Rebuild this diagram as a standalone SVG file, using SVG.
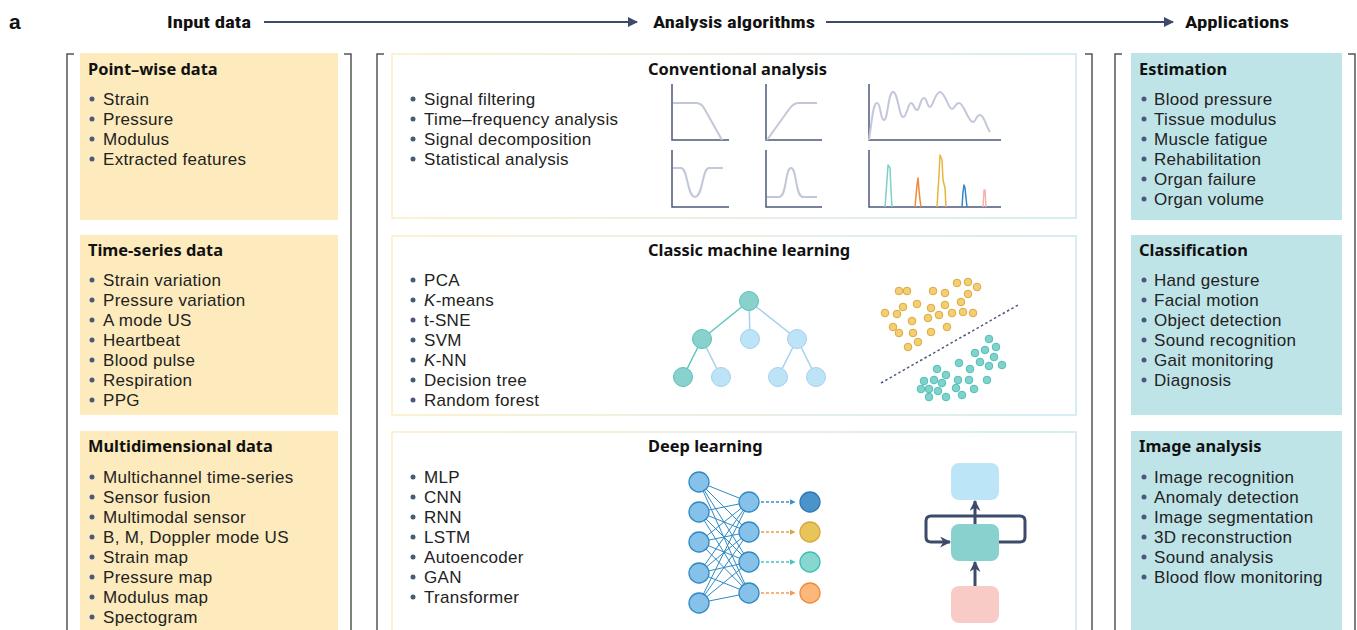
<svg xmlns="http://www.w3.org/2000/svg" width="1357" height="630" viewBox="0 0 1357 630">
  <defs>
    <style>
      .hdr { font-family: "Liberation Sans Narrow", "Roboto Condensed", Roboto, sans-serif; font-weight: bold; font-size: 16px; fill: #111; }
      .lbl { font-family: "Liberation Sans", Roboto, sans-serif; font-weight: bold; font-size: 21px; fill: #111; }
      .ttl { font-family: "Noto Sans", "Liberation Sans", sans-serif; font-weight: bold; font-size: 16.4px; fill: #111; }
      .itm { font-family: "Liberation Sans", Arial, sans-serif; font-size: 17px; letter-spacing: 0.3px; fill: #222; }
      .dot { fill: #4a5a7a; }
      .brk { fill: none; stroke: #555; stroke-width: 1.5; }
      .yel { fill: #fdebbd; }
      .cyn { fill: #bfe4e8; }
      .mid { fill: #fff; stroke: url(#edge); stroke-width: 1.5; }
      .axis { fill: none; stroke: #4a5a7a; stroke-width: 1.5; }
      .crv { fill: none; stroke: #c2c7da; stroke-width: 2; stroke-linejoin: round; }
      .tn { fill: #88d1cc; stroke: #5cc0b8; stroke-width: 1; }
      .bn { fill: #bde3f7; stroke: #a3d1ee; stroke-width: 1; }
      .te { stroke: #5cc7bf; stroke-width: 1.5; }
      .be { stroke: #a3d1ee; stroke-width: 1.5; }
      .yd { fill: #f3cf72; stroke: #d9a940; stroke-width: 1; }
      .cd { fill: #7fd3cc; stroke: #4fbfb5; stroke-width: 1; }
      .nn { fill: #85c1e9; stroke: #2f8ac4; stroke-width: 1.3; }
      .nw { stroke: #2f8ac4; stroke-width: 1; }
      .flow { fill: none; stroke: #3d4b6a; stroke-width: 3; stroke-linejoin: round; }
    </style>
    <linearGradient id="edge" x1="0" y1="0" x2="1" y2="0">
      <stop offset="0" stop-color="#fcedc4"/>
      <stop offset="1" stop-color="#c8e8ee"/>
    </linearGradient>
    <marker id="ah" viewBox="0 0 10 10" refX="9" refY="5" markerWidth="10" markerHeight="10" markerUnits="userSpaceOnUse" orient="auto">
      <path d="M0,0 L10,5 L0,10 Z" fill="#3d4b6a"/>
    </marker>
    <marker id="ahb" viewBox="0 0 10 10" refX="9" refY="5" markerWidth="11" markerHeight="11" markerUnits="userSpaceOnUse" orient="auto">
      <path d="M0,0 L10,5 L0,10 L3,5 Z" fill="#3d4b6a"/>
    </marker>
    <marker id="m1" viewBox="0 0 10 10" refX="9" refY="5" markerWidth="6" markerHeight="6" markerUnits="userSpaceOnUse" orient="auto"><path d="M0,0 L10,5 L0,10 Z" fill="#3b8fc8"/></marker>
    <marker id="m2" viewBox="0 0 10 10" refX="9" refY="5" markerWidth="6" markerHeight="6" markerUnits="userSpaceOnUse" orient="auto"><path d="M0,0 L10,5 L0,10 Z" fill="#d8a84a"/></marker>
    <marker id="m3" viewBox="0 0 10 10" refX="9" refY="5" markerWidth="6" markerHeight="6" markerUnits="userSpaceOnUse" orient="auto"><path d="M0,0 L10,5 L0,10 Z" fill="#4cc4bc"/></marker>
    <marker id="m4" viewBox="0 0 10 10" refX="9" refY="5" markerWidth="6" markerHeight="6" markerUnits="userSpaceOnUse" orient="auto"><path d="M0,0 L10,5 L0,10 Z" fill="#f39a55"/></marker>
  </defs>

  <rect width="1357" height="630" fill="#fff"/>

  <!-- panel letter and column headers -->
  <g id="headers">
    <text x="9" y="29" class="lbl">a</text>
    <text x="167" y="28" class="hdr" textLength="84" lengthAdjust="spacingAndGlyphs">Input data</text>
    <text x="653" y="28" class="hdr" textLength="162" lengthAdjust="spacingAndGlyphs">Analysis algorithms</text>
    <text x="1185" y="28" class="hdr" textLength="104" lengthAdjust="spacingAndGlyphs">Applications</text>
  </g>

  <!-- flow arrows between the three columns -->
  <g id="connectors">
    <line x1="264" y1="22" x2="637" y2="22" stroke="#3d4b6a" stroke-width="2" marker-end="url(#ah)"/>
    <line x1="826" y1="22" x2="1173" y2="22" stroke="#3d4b6a" stroke-width="2" marker-end="url(#ah)"/>
  </g>

  <!-- column brackets -->
  <g id="brackets">
    <path class="brk" d="M74,54 H67 V630"/>
    <path class="brk" d="M344,54 H351 V630"/>
    <path class="brk" d="M384,54 H377 V630"/>
    <path class="brk" d="M1085,54 H1092 V630"/>
    <path class="brk" d="M1122,54 H1115 V630"/>
    <path class="brk" d="M1348,54 H1355 V630"/>
  </g>

  <!-- ===== Input data column ===== -->
  <g id="pointwise">
    <rect class="yel" x="80" y="53" width="258" height="167"/>
    <text class="ttl" x="88" y="75">Point–wise data</text>
    <g class="dot"><circle cx="92" cy="99" r="2.5"/><circle cx="92" cy="119" r="2.5"/><circle cx="92" cy="139" r="2.5"/><circle cx="92" cy="159" r="2.5"/></g>
    <text class="itm" x="103" y="105">Strain</text>
    <text class="itm" x="103" y="125">Pressure</text>
    <text class="itm" x="103" y="145">Modulus</text>
    <text class="itm" x="103" y="165">Extracted features</text>
  </g>

  <g id="timeseries">
    <rect class="yel" x="80" y="235" width="258" height="180"/>
    <text class="ttl" x="88" y="256">Time-series data</text>
    <g class="dot"><circle cx="92" cy="280" r="2.5"/><circle cx="92" cy="300" r="2.5"/><circle cx="92" cy="320" r="2.5"/><circle cx="92" cy="340" r="2.5"/><circle cx="92" cy="360" r="2.5"/><circle cx="92" cy="380" r="2.5"/><circle cx="92" cy="400" r="2.5"/></g>
    <text class="itm" x="103" y="286">Strain variation</text>
    <text class="itm" x="103" y="306">Pressure variation</text>
    <text class="itm" x="103" y="326">A mode US</text>
    <text class="itm" x="103" y="346">Heartbeat</text>
    <text class="itm" x="103" y="366">Blood pulse</text>
    <text class="itm" x="103" y="386">Respiration</text>
    <text class="itm" x="103" y="406">PPG</text>
  </g>

  <g id="multidimensional">
    <rect class="yel" x="80" y="431" width="258" height="200"/>
    <text class="ttl" x="88" y="452">Multidimensional data</text>
    <g class="dot"><circle cx="92" cy="477" r="2.5"/><circle cx="92" cy="497" r="2.5"/><circle cx="92" cy="517" r="2.5"/><circle cx="92" cy="537" r="2.5"/><circle cx="92" cy="557" r="2.5"/><circle cx="92" cy="577" r="2.5"/><circle cx="92" cy="597" r="2.5"/><circle cx="92" cy="617" r="2.5"/></g>
    <text class="itm" x="103" y="483">Multichannel time-series</text>
    <text class="itm" x="103" y="503">Sensor fusion</text>
    <text class="itm" x="103" y="523">Multimodal sensor</text>
    <text class="itm" x="103" y="543">B, M, Doppler mode US</text>
    <text class="itm" x="103" y="563">Strain map</text>
    <text class="itm" x="103" y="583">Pressure map</text>
    <text class="itm" x="103" y="603">Modulus map</text>
    <text class="itm" x="103" y="623">Spectogram</text>
  </g>

  <!-- ===== Analysis algorithms column ===== -->
  <g id="conventional">
    <rect class="mid" x="392" y="54" width="684" height="164"/>
    <text class="ttl" x="648" y="75">Conventional analysis</text>
    <g class="dot"><circle cx="413" cy="99" r="2.5"/><circle cx="413" cy="119" r="2.5"/><circle cx="413" cy="139" r="2.5"/><circle cx="413" cy="159" r="2.5"/></g>
    <text class="itm" x="424" y="105">Signal filtering</text>
    <text class="itm" x="424" y="125">Time–frequency analysis</text>
    <text class="itm" x="424" y="145">Signal decomposition</text>
    <text class="itm" x="424" y="165">Statistical analysis</text>
    <!-- filter responses -->
    <path class="axis" d="M672,84 V140 H729"/>
    <path class="crv" d="M673,103 H696 Q701,103 704,108 L722,140"/>
    <path class="axis" d="M766,84 V140 H822"/>
    <path class="crv" d="M767,140 L790,108 Q794,103 799,103 H817"/>
    <path class="axis" d="M869,84 V140 H1001"/>
    <path class="crv" d="M869,140 C872,120 873,103 877,103 C881,103 880,120 884,120 C888,120 888,92 893,92 C898,92 899,117 903,117 C907,117 908,103 911,103 C914,103 914,110 917,110 C920,110 920,98 924,98 C927,98 927,107 930,107 C933,107 935,92 940,92 C945,92 948,109 952,109 C955,109 955,103 959,103 C964,103 968,122 973,122 C976,122 976,115 980,115 C984,115 986,126 990,132"/>
    <path class="axis" d="M672,150 V207 H729"/>
    <path class="crv" d="M673,168 H681 C688,168 687,197 695,197 C703,197 702,168 709,168 H723"/>
    <path class="axis" d="M766,150 V207 H822"/>
    <path class="crv" d="M767,197 H779 C787,197 785,168 791,168 C797,168 795,197 803,197 H817"/>
    <path class="axis" d="M869,150 V207 H1001"/>
    <g fill="none" stroke-width="1.5" stroke-linejoin="round">
      <path stroke="#7ed0c9" d="M885,207 L887,180 L888,165 L890,168 L891,190 L892,207"/>
      <path stroke="#f08a3a" d="M915,207 L917,185 L918,178 L919,190 L920,200 L921,207"/>
      <path stroke="#e7b53e" d="M937,207 L939,175 L940,155 L942,160 L943,180 L945,188 L946,207"/>
      <path stroke="#3a86c4" d="M962,207 L963,192 L964,185 L965,188 L966,198 L967,207"/>
      <path stroke="#f4b3ae" d="M983,207 L984,190 L985,190 L986,207"/>
    </g>
  </g>

  <g id="classic-ml">
    <rect class="mid" x="392" y="236" width="684" height="179"/>
    <text class="ttl" x="648" y="256">Classic machine learning</text>
    <g class="dot"><circle cx="413" cy="280" r="2.5"/><circle cx="413" cy="300" r="2.5"/><circle cx="413" cy="320" r="2.5"/><circle cx="413" cy="340" r="2.5"/><circle cx="413" cy="360" r="2.5"/><circle cx="413" cy="380" r="2.5"/><circle cx="413" cy="400" r="2.5"/></g>
    <text class="itm" x="424" y="286">PCA</text>
    <text class="itm" x="424" y="306"><tspan font-style="italic">K</tspan>-means</text>
    <text class="itm" x="424" y="326">t-SNE</text>
    <text class="itm" x="424" y="346">SVM</text>
    <text class="itm" x="424" y="366"><tspan font-style="italic">K</tspan>-NN</text>
    <text class="itm" x="424" y="386">Decision tree</text>
    <text class="itm" x="424" y="406">Random forest</text>
    <!-- decision tree -->
    <line class="te" x1="749" y1="301" x2="702" y2="339"/>
    <line class="be" x1="749" y1="301" x2="750" y2="339"/>
    <line class="be" x1="749" y1="301" x2="797" y2="339"/>
    <line class="te" x1="702" y1="339" x2="683" y2="377"/>
    <line class="be" x1="702" y1="339" x2="721" y2="377"/>
    <line class="be" x1="797" y1="339" x2="778" y2="377"/>
    <line class="be" x1="797" y1="339" x2="816" y2="377"/>
    <circle class="tn" cx="749" cy="301" r="9.5"/>
    <circle class="tn" cx="702" cy="339" r="9.5"/>
    <circle class="bn" cx="750" cy="339" r="9.5"/>
    <circle class="bn" cx="797" cy="339" r="9.5"/>
    <circle class="tn" cx="683" cy="377" r="9.5"/>
    <circle class="bn" cx="721" cy="377" r="9.5"/>
    <circle class="bn" cx="778" cy="377" r="9.5"/>
    <circle class="bn" cx="816" cy="377" r="9.5"/>
    <!-- clustered scatter with separating boundary -->
    <line x1="881" y1="383" x2="1018" y2="305" stroke="#4a5a7a" stroke-width="1.5" stroke-dasharray="2.5 2.5"/>
    <g class="yd">
      <circle cx="899" cy="291" r="3.8"/><circle cx="907" cy="291" r="3.8"/><circle cx="933" cy="291" r="3.8"/><circle cx="945" cy="293" r="3.8"/>
      <circle cx="957" cy="283" r="3.8"/><circle cx="968" cy="282" r="3.8"/><circle cx="977" cy="287" r="3.8"/><circle cx="968" cy="294" r="3.8"/>
      <circle cx="961" cy="302" r="3.8"/><circle cx="903" cy="307" r="3.8"/><circle cx="917" cy="304" r="3.8"/><circle cx="931" cy="308" r="3.8"/>
      <circle cx="945" cy="305" r="3.8"/><circle cx="885" cy="313" r="3.8"/><circle cx="897" cy="314" r="3.8"/><circle cx="928" cy="318" r="3.8"/>
      <circle cx="939" cy="315" r="3.8"/><circle cx="952" cy="313" r="3.8"/><circle cx="963" cy="312" r="3.8"/><circle cx="973" cy="313" r="3.8"/>
      <circle cx="912" cy="321" r="3.8"/><circle cx="893" cy="327" r="3.8"/><circle cx="899" cy="333" r="3.8"/><circle cx="913" cy="333" r="3.8"/>
      <circle cx="931" cy="332" r="3.8"/><circle cx="947" cy="327" r="3.8"/><circle cx="918" cy="342" r="3.8"/><circle cx="908" cy="347" r="3.8"/>
    </g>
    <g class="cd">
      <circle cx="989" cy="339" r="3.8"/><circle cx="996" cy="347" r="3.8"/><circle cx="985" cy="350" r="3.8"/><circle cx="975" cy="353" r="3.8"/>
      <circle cx="994" cy="357" r="3.8"/><circle cx="959" cy="363" r="3.8"/><circle cx="980" cy="362" r="3.8"/><circle cx="989" cy="366" r="3.8"/>
      <circle cx="1002" cy="365" r="3.8"/><circle cx="970" cy="369" r="3.8"/><circle cx="937" cy="369" r="3.8"/><circle cx="946" cy="375" r="3.8"/>
      <circle cx="924" cy="381" r="3.8"/><circle cx="934" cy="380" r="3.8"/><circle cx="942" cy="383" r="3.8"/><circle cx="958" cy="380" r="3.8"/>
      <circle cx="969" cy="380" r="3.8"/><circle cx="987" cy="380" r="3.8"/><circle cx="921" cy="389" r="3.8"/><circle cx="929" cy="389" r="3.8"/>
      <circle cx="938" cy="391" r="3.8"/><circle cx="956" cy="388" r="3.8"/><circle cx="974" cy="389" r="3.8"/><circle cx="929" cy="397" r="3.8"/>
      <circle cx="946" cy="397" r="3.8"/><circle cx="962" cy="395" r="3.8"/>
    </g>
  </g>

  <g id="deep-learning">
    <rect class="mid" x="392" y="432" width="684" height="200"/>
    <text class="ttl" x="648" y="452">Deep learning</text>
    <g class="dot"><circle cx="413" cy="477" r="2.5"/><circle cx="413" cy="497" r="2.5"/><circle cx="413" cy="517" r="2.5"/><circle cx="413" cy="537" r="2.5"/><circle cx="413" cy="557" r="2.5"/><circle cx="413" cy="577" r="2.5"/><circle cx="413" cy="597" r="2.5"/></g>
    <text class="itm" x="424" y="483">MLP</text>
    <text class="itm" x="424" y="503">CNN</text>
    <text class="itm" x="424" y="523">RNN</text>
    <text class="itm" x="424" y="543">LSTM</text>
    <text class="itm" x="424" y="563">Autoencoder</text>
    <text class="itm" x="424" y="583">GAN</text>
    <text class="itm" x="424" y="603">Transformer</text>
    <!-- fully connected layers -->
    <g class="nw">
      <line x1="699" y1="482" x2="749" y2="502"/><line x1="699" y1="482" x2="749" y2="532"/><line x1="699" y1="482" x2="749" y2="562"/><line x1="699" y1="482" x2="749" y2="593"/>
      <line x1="699" y1="512" x2="749" y2="502"/><line x1="699" y1="512" x2="749" y2="532"/><line x1="699" y1="512" x2="749" y2="562"/><line x1="699" y1="512" x2="749" y2="593"/>
      <line x1="699" y1="542" x2="749" y2="502"/><line x1="699" y1="542" x2="749" y2="532"/><line x1="699" y1="542" x2="749" y2="562"/><line x1="699" y1="542" x2="749" y2="593"/>
      <line x1="699" y1="573" x2="749" y2="502"/><line x1="699" y1="573" x2="749" y2="532"/><line x1="699" y1="573" x2="749" y2="562"/><line x1="699" y1="573" x2="749" y2="593"/>
      <line x1="699" y1="603" x2="749" y2="502"/><line x1="699" y1="603" x2="749" y2="532"/><line x1="699" y1="603" x2="749" y2="562"/><line x1="699" y1="603" x2="749" y2="593"/>
    </g>
    <g class="nn">
      <circle cx="699" cy="482" r="10"/><circle cx="699" cy="512" r="10"/><circle cx="699" cy="542" r="10"/><circle cx="699" cy="573" r="10"/><circle cx="699" cy="603" r="10"/>
      <circle cx="749" cy="502" r="10"/><circle cx="749" cy="532" r="10"/><circle cx="749" cy="562" r="10"/><circle cx="749" cy="593" r="10"/>
    </g>
    <g stroke-width="1.5" stroke-dasharray="3 2">
      <line x1="761" y1="502" x2="795" y2="502" stroke="#3b8fc8" marker-end="url(#m1)"/>
      <line x1="761" y1="532" x2="795" y2="532" stroke="#d8a84a" marker-end="url(#m2)"/>
      <line x1="761" y1="562" x2="795" y2="562" stroke="#4cc4bc" marker-end="url(#m3)"/>
      <line x1="761" y1="593" x2="795" y2="593" stroke="#f39a55" marker-end="url(#m4)"/>
    </g>
    <circle cx="810" cy="502" r="10" fill="#4a93cb" stroke="#2f78b3" stroke-width="1.3"/>
    <circle cx="810" cy="532" r="10" fill="#e8c55a" stroke="#d6a83a" stroke-width="1.3"/>
    <circle cx="810" cy="562" r="10" fill="#88d6d0" stroke="#3cbfb5" stroke-width="1.3"/>
    <circle cx="810" cy="593" r="10" fill="#fbb87a" stroke="#f08a3a" stroke-width="1.3"/>
    <!-- recurrent cell -->
    <path class="flow" d="M999,542 H1020 Q1025,542 1025,537 V521 Q1025,516 1020,516 H931 Q926,516 926,521 V537 Q926,542 931,542 H950" marker-end="url(#ahb)"/>
    <line class="flow" x1="975" y1="524" x2="975" y2="501" marker-end="url(#ahb)"/>
    <line class="flow" x1="975" y1="586" x2="975" y2="562" marker-end="url(#ahb)"/>
    <rect x="951" y="463" width="48" height="37" rx="8" fill="#bde5f8"/>
    <rect x="951" y="524" width="48" height="37" rx="8" fill="#88d1cf"/>
    <rect x="951" y="586" width="48" height="37" rx="8" fill="#f8cbc6"/>
  </g>

  <!-- ===== Applications column ===== -->
  <g id="estimation">
    <rect class="cyn" x="1131" y="53" width="211" height="167"/>
    <text class="ttl" x="1139" y="75">Estimation</text>
    <g class="dot"><circle cx="1144" cy="99" r="2.5"/><circle cx="1144" cy="119" r="2.5"/><circle cx="1144" cy="139" r="2.5"/><circle cx="1144" cy="159" r="2.5"/><circle cx="1144" cy="179" r="2.5"/><circle cx="1144" cy="199" r="2.5"/></g>
    <text class="itm" x="1154" y="105">Blood pressure</text>
    <text class="itm" x="1154" y="125">Tissue modulus</text>
    <text class="itm" x="1154" y="145">Muscle fatigue</text>
    <text class="itm" x="1154" y="165">Rehabilitation</text>
    <text class="itm" x="1154" y="185">Organ failure</text>
    <text class="itm" x="1154" y="205">Organ volume</text>
  </g>

  <g id="classification">
    <rect class="cyn" x="1131" y="235" width="211" height="180"/>
    <text class="ttl" x="1139" y="256">Classification</text>
    <g class="dot"><circle cx="1144" cy="280" r="2.5"/><circle cx="1144" cy="300" r="2.5"/><circle cx="1144" cy="320" r="2.5"/><circle cx="1144" cy="340" r="2.5"/><circle cx="1144" cy="360" r="2.5"/><circle cx="1144" cy="380" r="2.5"/></g>
    <text class="itm" x="1154" y="286">Hand gesture</text>
    <text class="itm" x="1154" y="306">Facial motion</text>
    <text class="itm" x="1154" y="326">Object detection</text>
    <text class="itm" x="1154" y="346">Sound recognition</text>
    <text class="itm" x="1154" y="366">Gait monitoring</text>
    <text class="itm" x="1154" y="386">Diagnosis</text>
  </g>

  <g id="image-analysis">
    <rect class="cyn" x="1131" y="431" width="211" height="200"/>
    <text class="ttl" x="1139" y="452">Image analysis</text>
    <g class="dot"><circle cx="1144" cy="477" r="2.5"/><circle cx="1144" cy="497" r="2.5"/><circle cx="1144" cy="517" r="2.5"/><circle cx="1144" cy="537" r="2.5"/><circle cx="1144" cy="557" r="2.5"/><circle cx="1144" cy="577" r="2.5"/></g>
    <text class="itm" x="1154" y="483">Image recognition</text>
    <text class="itm" x="1154" y="503">Anomaly detection</text>
    <text class="itm" x="1154" y="523">Image segmentation</text>
    <text class="itm" x="1154" y="543">3D reconstruction</text>
    <text class="itm" x="1154" y="563">Sound analysis</text>
    <text class="itm" x="1154" y="583">Blood flow monitoring</text>
  </g>
</svg>
